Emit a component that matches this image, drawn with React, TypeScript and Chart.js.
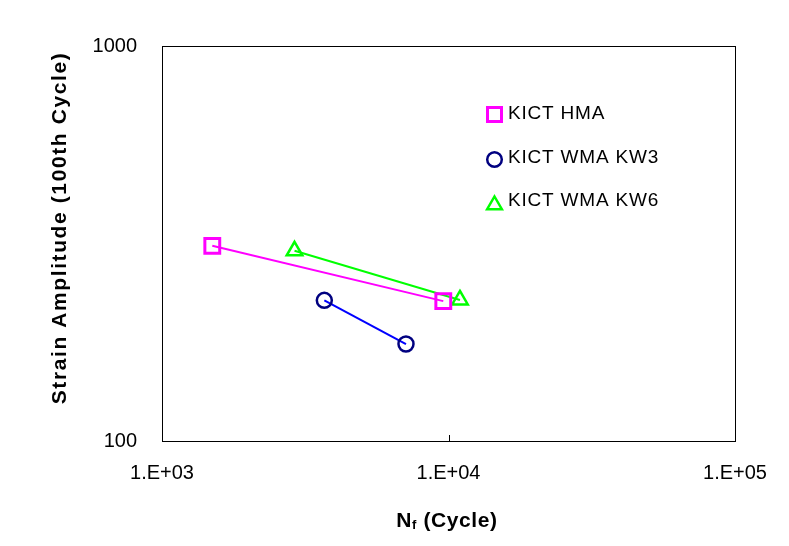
import React, { useEffect, useRef } from "react";
import { Chart, registerables } from "chart.js";

Chart.register(...registerables);

// ---- data ----
const seriesNames = ["KICT HMA", "KICT WMA KW3", "KICT WMA KW6"];
const hmaCycles = [1498, 9590];
const hmaStrain = [312, 226];
const kw3Cycles = [3686, 7106];
const kw3Strain = [227, 176];
const kw6Cycles = [2901, 10965];
const kw6Strain = [303, 227.5];
const xTickValues = [1000, 10000, 100000];
const xTickLabels = ["1.E+03", "1.E+04", "1.E+05"];
const yTickValues = [100, 1000];
const yTickLabels = ["100", "1000"];
const xTitleMain = "N";
const xTitleSub = "f";
const xTitleRest = " (Cycle)";
const yTitle = "Strain Amplitude (100th Cycle)";

const FONT = "'Liberation Sans', Arial, sans-serif";

const toPoints = (xs: number[], ys: number[]) => xs.map((x, i) => ({ x, y: ys[i] }));

const decorPlugin = {
  id: "decor",
  beforeDraw(chart: any) {
    const ctx = chart.ctx;
    ctx.save();
    ctx.fillStyle = "#ffffff";
    ctx.fillRect(0, 0, chart.width, chart.height);
    ctx.restore();
  },
  afterDraw(chart: any) {
    const ctx = chart.ctx as CanvasRenderingContext2D;
    const a = chart.chartArea;
    const xs = chart.scales.x;
    // frame
    ctx.save();
    ctx.strokeStyle = "#000";
    ctx.lineWidth = 1;
    ctx.strokeRect(Math.round(a.left) + 0.5, Math.round(a.top) + 0.5, Math.round(a.right - a.left), Math.round(a.bottom - a.top));
    // inner major tick marks on x axis
    xTickValues.forEach((v) => {
      const px = Math.round(xs.getPixelForValue(v)) + 0.5;
      ctx.beginPath();
      ctx.moveTo(px, a.bottom);
      ctx.lineTo(px, a.bottom - 6);
      ctx.stroke();
    });
    ctx.restore();

    // legend
    ctx.save();
    const legendX = 494.5;
    const legendY = [114, 158, 201];
    chart.data.datasets.forEach((ds: any, i: number) => {
      const y = legendY[i];
      ctx.save();
      ctx.lineWidth = ds.pointBorderWidth;
      ctx.strokeStyle = ds.pointBorderColor;
      ctx.beginPath();
      if (ds.pointStyle === "rect") {
        ctx.rect(legendX - 7, y - 6.5, 14, 14);
      } else if (ds.pointStyle === "circle") {
        ctx.arc(legendX, y + 1.5, 7.3, 0, Math.PI * 2);
      } else {
        const r = 8.5;
        const cy = y + 4;
        ctx.moveTo(legendX, cy - r);
        ctx.lineTo(legendX + r * 0.866, cy + r * 0.5);
        ctx.lineTo(legendX - r * 0.866, cy + r * 0.5);
        ctx.closePath();
      }
      ctx.stroke();
      ctx.restore();
      ctx.fillStyle = "#000";
      ctx.font = `19px ${FONT}`;
      (ctx as any).letterSpacing = "0.8px";
      ctx.textAlign = "left";
      ctx.textBaseline = "middle";
      ctx.fillText(ds.label, 508, y);
    });
    ctx.restore();

    // y title
    ctx.save();
    ctx.translate(60, 228);
    ctx.rotate(-Math.PI / 2);
    ctx.font = `bold 21px ${FONT}`;
    (ctx as any).letterSpacing = "1.6px";
    ctx.fillStyle = "#000";
    ctx.textAlign = "center";
    ctx.textBaseline = "middle";
    ctx.fillText(yTitle, 0, 0);
    ctx.restore();

    // x title with subscript
    ctx.save();
    ctx.fillStyle = "#000";
    (ctx as any).letterSpacing = "0.6px";
    ctx.textBaseline = "alphabetic";
    ctx.textAlign = "left";
    const bigFont = `bold 21px ${FONT}`;
    const subFont = `bold 13px ${FONT}`;
    ctx.font = bigFont;
    const w1 = ctx.measureText(xTitleMain).width;
    const w3 = ctx.measureText(xTitleRest).width;
    ctx.font = subFont;
    const w2 = ctx.measureText(xTitleSub).width;
    const total = w1 + w2 + w3;
    let x0 = 447 - total / 2;
    const base = 527;
    ctx.font = bigFont;
    ctx.fillText(xTitleMain, x0, base);
    x0 += w1;
    ctx.font = subFont;
    ctx.fillText(xTitleSub, x0, base + 2);
    x0 += w2;
    ctx.font = bigFont;
    ctx.fillText(xTitleRest, x0, base);
    ctx.restore();
  },
};

export default function App() {
  const canvasRef = useRef<HTMLCanvasElement | null>(null);

  useEffect(() => {
    const canvas = canvasRef.current;
    if (!canvas) return;
    const chart = new Chart(canvas, {
      type: "scatter",
      data: {
        datasets: [
          {
            label: seriesNames[0],
            data: toPoints(hmaCycles, hmaStrain),
            showLine: true,
            borderColor: "#FF00FF",
            borderWidth: 2,
            pointStyle: "rect",
            pointRadius: 10.5,
            pointHoverRadius: 10.5,
            pointBorderWidth: 3,
            pointBorderColor: "#FF00FF",
            pointBackgroundColor: "rgba(255,255,255,0)",
          } as any,
          {
            label: seriesNames[1],
            data: toPoints(kw3Cycles, kw3Strain),
            showLine: true,
            borderColor: "#0000FF",
            borderWidth: 2,
            pointStyle: "circle",
            pointRadius: 7.5,
            pointHoverRadius: 7.5,
            pointBorderWidth: 2.5,
            pointBorderColor: "#000080",
            pointBackgroundColor: "rgba(255,255,255,0)",
          } as any,
          {
            label: seriesNames[2],
            data: toPoints(kw6Cycles, kw6Strain),
            showLine: true,
            borderColor: "#00FF00",
            borderWidth: 2,
            pointStyle: "triangle",
            pointRadius: 9,
            pointHoverRadius: 9,
            pointBorderWidth: 2.5,
            pointBorderColor: "#00FF00",
            pointBackgroundColor: "rgba(255,255,255,0)",
          } as any,
        ],
      },
      options: {
        responsive: false,
        animation: false,
        events: [],
        layout: { padding: { left: 0, top: 46, right: 54, bottom: 0 } },
        plugins: {
          legend: { display: false },
          tooltip: { enabled: false },
          title: { display: false },
        },
        scales: {
          x: {
            type: "logarithmic",
            min: 1000,
            max: 100000,
            grid: { display: false },
            border: { display: false },
            afterBuildTicks: (s: any) => {
              s.ticks = xTickValues.map((v) => ({ value: v }));
            },
            afterFit: (s: any) => {
              s.height = 105;
            },
            ticks: {
              autoSkip: false,
              maxRotation: 0,
              minRotation: 0,
              padding: 12,
              color: "#000",
              font: { family: FONT, size: 20 },
              callback: (_v: any, i: number) => xTickLabels[i],
            },
          },
          y: {
            type: "logarithmic",
            min: 100,
            max: 1000,
            grid: { display: false },
            border: { display: false },
            afterBuildTicks: (s: any) => {
              s.ticks = yTickValues.map((v) => ({ value: v }));
            },
            afterFit: (s: any) => {
              s.width = 162;
            },
            ticks: {
              autoSkip: false,
              padding: 17,
              color: "#000",
              font: { family: FONT, size: 20 },
              callback: (_v: any, i: number) => yTickLabels[i],
            },
          },
        },
      } as any,
      plugins: [decorPlugin],
    });
    return () => chart.destroy();
  }, []);

  return (
    <div style={{ position: "absolute", left: 0, top: 0, width: 789, height: 546, background: "#fff" }}>
      <canvas ref={canvasRef} width={789} height={546} style={{ display: "block" }} />
    </div>
  );
}
